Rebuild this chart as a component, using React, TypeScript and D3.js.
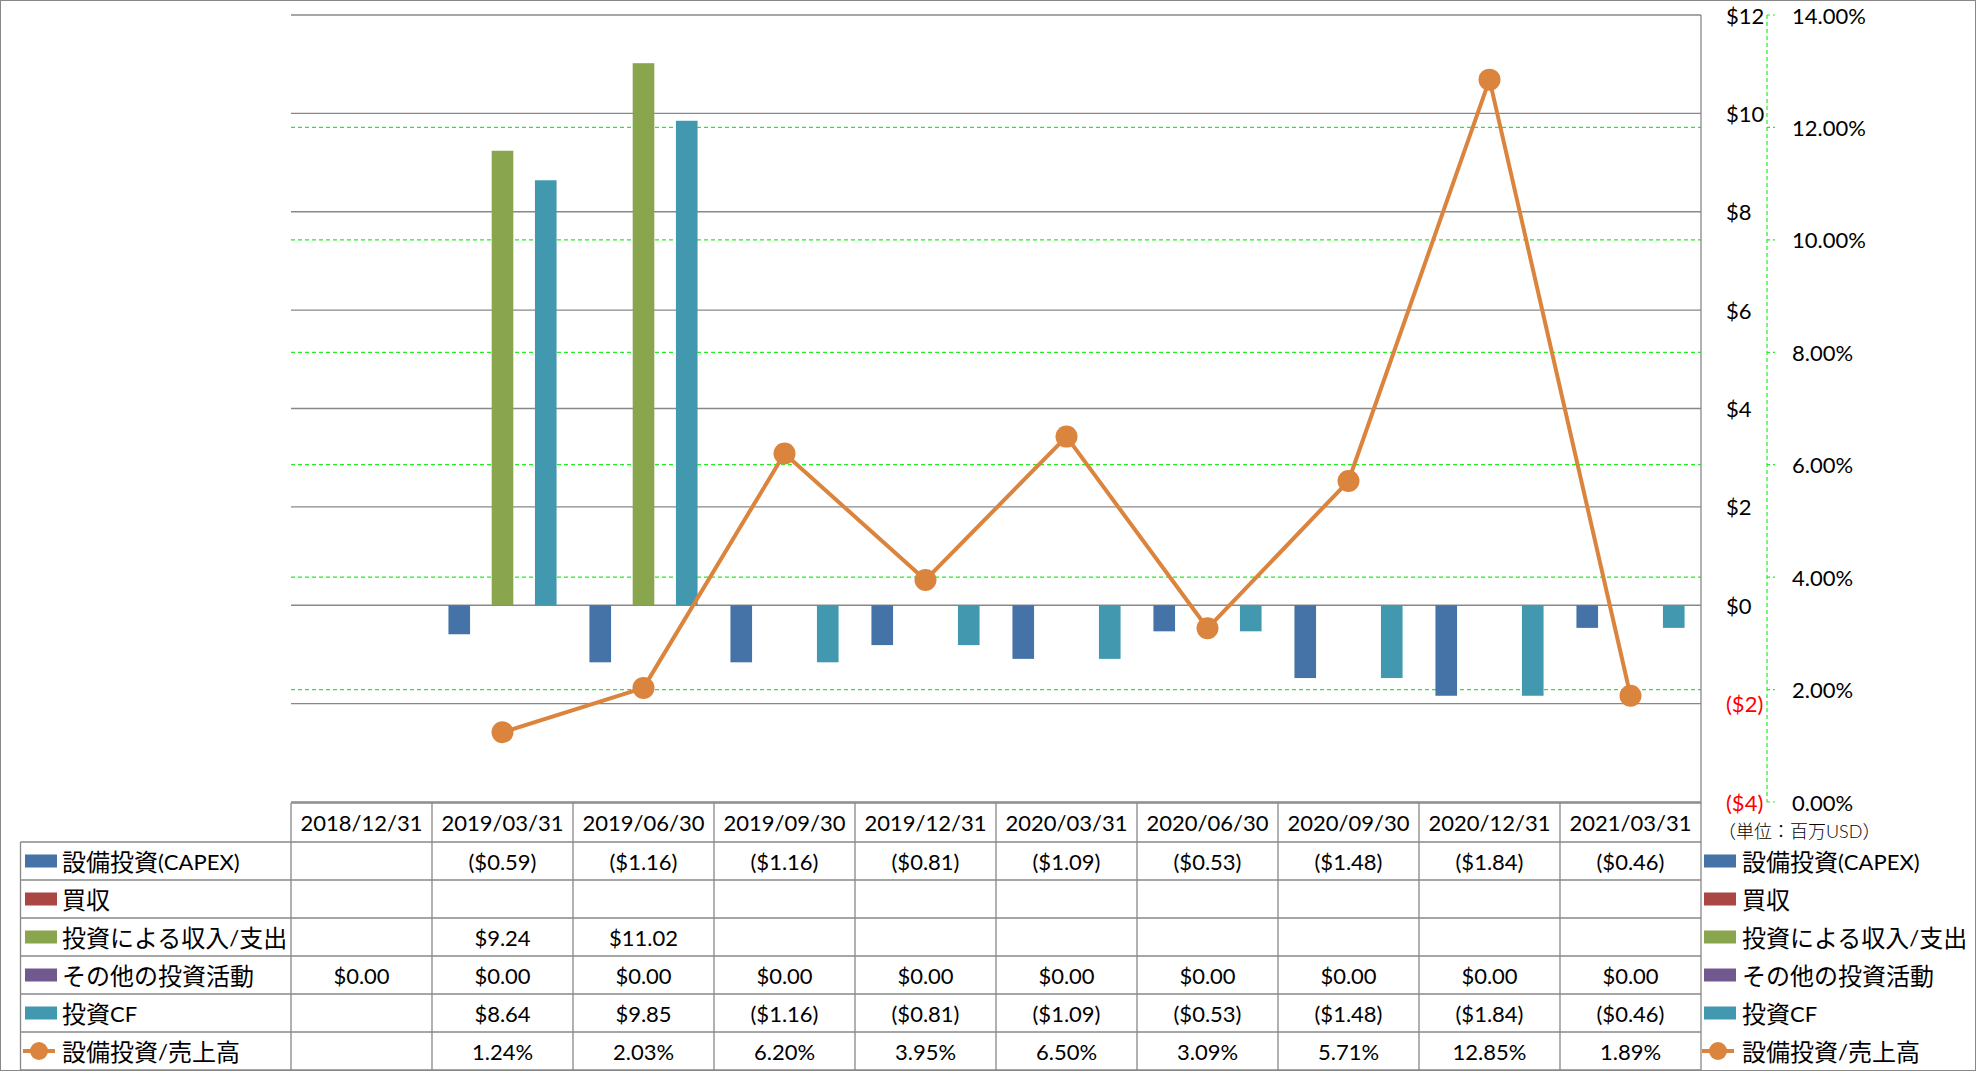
import React from 'react';
import * as d3 from 'd3';

const dates = ['2018/12/31', '2019/03/31', '2019/06/30', '2019/09/30', '2019/12/31', '2020/03/31', '2020/06/30', '2020/09/30', '2020/12/31', '2021/03/31'];
const capex = [null, -0.59, -1.16, -1.16, -0.81, -1.09, -0.53, -1.48, -1.84, -0.46];
const acquisitions = [null, null, null, null, null, null, null, null, null, null];
const investIncome = [null, 9.24, 11.02, null, null, null, null, null, null, null];
const otherInvest = [0, 0, 0, 0, 0, 0, 0, 0, 0, 0];
const investCF = [null, 8.64, 9.85, -1.16, -0.81, -1.09, -0.53, -1.48, -1.84, -0.46];
const capexRatio = [null, 1.24, 2.03, 6.2, 3.95, 6.5, 3.09, 5.71, 12.85, 1.89];

const leftTicks = [-4, -2, 0, 2, 4, 6, 8, 10, 12];
const rightTicks = [0, 2, 4, 6, 8, 10, 12, 14];

const barSeries = [
  { name: '設備投資(CAPEX)', color: '#4572A7', values: capex },
  { name: '買収', color: '#AA4643', values: acquisitions },
  { name: '投資による収入/支出', color: '#89A54E', values: investIncome },
  { name: 'その他の投資活動', color: '#71588F', values: otherInvest },
  { name: '投資CF', color: '#4198AF', values: investCF },
];
const lineName = '設備投資/売上高';
const lineColor = '#DB843D';

const W = 1976;
const H = 1071;
const FONT = "Lato, 'Noto Sans CJK JP', sans-serif";
const GRID = '#888888';
const GREEN = '#22EE22';

const fmtMoney = (v: number | null) => {
  if (v === null) return '';
  return v < 0 ? `($${Math.abs(v).toFixed(2)})` : `$${v.toFixed(2)}`;
};

// split label into latin / CJK runs so the CJK glyphs can be a bit larger
const mixedText = (s: string) => {
  const runs = s.match(/[\x00-\x7F]+|[^\x00-\x7F]+/g) || [];
  return runs.map((r, i) => (
    <tspan key={i} fontSize={/[^\x00-\x7F]/.test(r) ? 24 : 22}>
      {r}
    </tspan>
  ));
};

export default function App() {
  const x = d3.scaleBand<string>().domain(dates).range([291, 1701]);
  const xs = d3
    .scaleBand<string>()
    .domain(barSeries.map((s) => s.name))
    .range([0, x.bandwidth()])
    .paddingInner(0)
    .paddingOuter(0.76);
  const yL = d3.scaleLinear().domain([-4, 12]).range([802, 15]);
  const yR = d3.scaleLinear().domain([0, 14]).range([802, 15]);

  const line = d3
    .line<number | null>()
    .defined((d) => d !== null)
    .x((_, i) => (x(dates[i]) as number) + x.bandwidth() / 2)
    .y((d) => yR(d as number));

  const headTop = 803;
  const headBot = 842;
  const rowH = 38;
  const rowNames = [...barSeries.map((s) => s.name), lineName];
  const rowVals: string[][] = [
    ...barSeries.map((s) => s.values.map(fmtMoney)),
    capexRatio.map((v) => (v === null ? '' : `${v.toFixed(2)}%`)),
  ];
  const rowColors = [...barSeries.map((s) => s.color), lineColor];
  const rowY = (i: number) => headBot + i * rowH;
  const tableBottom = rowY(rowNames.length);

  const legendKey = (i: number, kx: number) => {
    const cy = rowY(i) + rowH / 2;
    if (i === rowNames.length - 1) {
      return (
        <g>
          <line x1={kx - 2} x2={kx + 30} y1={cy} y2={cy} stroke={lineColor} strokeWidth={4} />
          <circle cx={kx + 14} cy={cy} r={9} fill={lineColor} />
        </g>
      );
    }
    return <rect x={kx} y={cy - 6.5} width={32} height={13} fill={rowColors[i]} />;
  };

  // green secondary gridlines, except where they sit on the plot's top/bottom edge
  const innerRight = rightTicks.filter((t) => t !== 0 && t !== 14);

  return (
    <svg
      width={W}
      height={H}
      style={{ position: 'absolute', left: 0, top: 0, background: '#fff' }}
      fontFamily={FONT}
    >
      <rect x={0.5} y={0.5} width={W - 1} height={H - 1} fill="#fff" stroke={GRID} />

      {innerRight.map((t) => (
        <line key={'gr' + t} x1={291} x2={1701} y1={yR(t)} y2={yR(t)} stroke={GREEN} strokeWidth={1.2} strokeDasharray="4,3" />
      ))}
      {leftTicks.map((t) => (
        <line key={'gl' + t} x1={291} x2={1701} y1={yL(t)} y2={yL(t)} stroke={GRID} strokeWidth={1.3} />
      ))}
      <line x1={1701} x2={1701} y1={15} y2={tableBottom} stroke={GRID} strokeWidth={1.3} />

      {/* bars */}
      {barSeries.map((s) =>
        s.values.map((v, i) => {
          if (v === null || v === 0) return null;
          const bx = (x(dates[i]) as number) + (xs(s.name) as number);
          return (
            <rect
              key={s.name + i}
              x={bx}
              y={yL(Math.max(0, v))}
              width={xs.bandwidth()}
              height={Math.abs(yL(v) - yL(0))}
              fill={s.color}
            />
          );
        })
      )}

      {/* line */}
      <path d={line(capexRatio) || ''} fill="none" stroke={lineColor} strokeWidth={4} strokeLinejoin="round" />
      {capexRatio.map((v, i) =>
        v === null ? null : (
          <circle key={'pt' + i} cx={(x(dates[i]) as number) + x.bandwidth() / 2} cy={yR(v)} r={11} fill={lineColor} />
        )
      )}

      {/* primary value axis labels (drawn on right side) */}
      {leftTicks.map((t) => (
        <text
          key={'tl' + t}
          x={1726}
          y={yL(t)}
          dominantBaseline="central"
          fontSize={22}
          fill={t < 0 ? '#FF0000' : '#000'}
        >
          {t < 0 ? `($${Math.abs(t)})` : `$${t}`}
        </text>
      ))}

      {/* secondary axis */}
      <line x1={1767} x2={1767} y1={15} y2={802} stroke={GREEN} strokeWidth={1.2} strokeDasharray="4,3" />
      {rightTicks.map((t) => (
        <g key={'tr' + t}>
          <line x1={1767} x2={1775} y1={yR(t)} y2={yR(t)} stroke={GREEN} strokeWidth={1.2} strokeDasharray="3,3" />
          <text x={1792} y={yR(t)} dominantBaseline="central" fontSize={22} fill="#000">
            {`${t.toFixed(2)}%`}
          </text>
        </g>
      ))}
      <text x={1718} y={831} dominantBaseline="central" fontSize={18} fill="#000" fontWeight={300}>
        （単位：百万USD）
      </text>

      {/* data table */}
      <line x1={291} x2={1701} y1={headTop} y2={headTop} stroke={GRID} strokeWidth={1.3} />
      {rowNames.map((_, i) => (
        <line key={'rl' + i} x1={20.5} x2={1701} y1={rowY(i)} y2={rowY(i)} stroke={GRID} strokeWidth={1.3} />
      ))}
      <line x1={20.5} x2={1701} y1={tableBottom} y2={tableBottom} stroke={GRID} strokeWidth={1.3} />
      <line x1={20.5} x2={20.5} y1={headBot} y2={tableBottom} stroke={GRID} strokeWidth={1.3} />
      {dates.map((d) => (
        <line key={'cl' + d} x1={x(d)} x2={x(d)} y1={headTop} y2={tableBottom} stroke={GRID} strokeWidth={1.3} />
      ))}
      {dates.map((d) => (
        <text
          key={'hd' + d}
          x={(x(d) as number) + x.bandwidth() / 2}
          y={(headTop + headBot) / 2}
          textAnchor="middle"
          dominantBaseline="central"
          fontSize={22}
          fill="#000"
        >
          {d}
        </text>
      ))}
      {rowNames.map((name, i) => (
        <g key={'row' + i}>
          {legendKey(i, 25)}
          <text x={62} y={rowY(i) + rowH / 2} dominantBaseline="central" fontSize={22} fill="#000">
            {mixedText(name)}
          </text>
          {legendKey(i, 1704)}
          <text x={1742} y={rowY(i) + rowH / 2} dominantBaseline="central" fontSize={22} fill="#000">
            {mixedText(name)}
          </text>
          {rowVals[i].map((v, j) => (
            <text
              key={'v' + j}
              x={(x(dates[j]) as number) + x.bandwidth() / 2}
              y={rowY(i) + rowH / 2}
              textAnchor="middle"
              dominantBaseline="central"
              fontSize={22}
              fill="#000"
            >
              {v}
            </text>
          ))}
        </g>
      ))}
    </svg>
  );
}
